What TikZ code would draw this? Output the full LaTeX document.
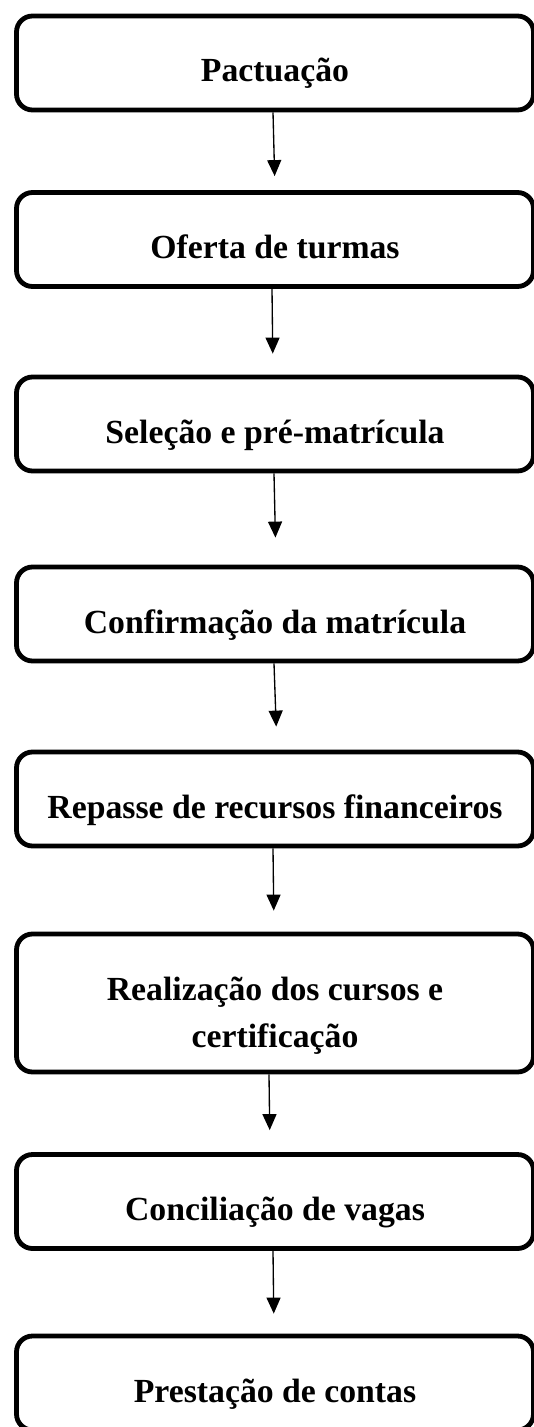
\documentclass[tikz,border=0pt]{standalone}
\usepackage{fontspec}
\setmainfont{Liberation Serif}
\usepackage{tikz}
\usetikzlibrary{arrows.meta}

\tikzset{
  stage/.style={draw, line width=3.6pt, rounded corners=12pt,
    minimum width=387.75pt, minimum height=70.5pt, inner sep=0pt,
    align=center, font=\fontsize{25.3}{35.25}\selectfont\bfseries,
    text height=28.5pt, text depth=0pt},
  flow/.style={line width=1pt, -{Triangle[length=12pt,width=10.5pt]}}
}

\begin{document}
\begin{tikzpicture}[x=0.75pt,y=-0.75pt]
    \useasboundingbox (0,0) rectangle (534,1427); % page size
    % the stages, top to bottom
    \node[stage] (pact)  at (275,63)    {Pactuação};
    \node[stage] (oferta) at (275,239.5) {Oferta de turmas};
    \node[stage] (selec) at (275,424)   {Seleção e pré-matrícula};
    \node[stage] (conf)  at (275,614)   {Confirmação da matrícula};
    \node[stage] (repas) at (275,799)   {Repasse de recursos financeiros};
    \node[stage, minimum height=103.5pt, text height=66pt]
                 (real)  at (275,1003)  {Realização dos cursos e\\certificação};
    \node[stage] (concil) at (275,1201.5) {Conciliação de vagas};
    \node[stage] (prest) at (275,1383)  {Prestação de contas};
    % arrows between the stages
    \foreach \from/\to/\sx/\ex/\gap in {pact/oferta/-1.5/0/10.5,
        oferta/selec/-2.25/-1.5/15.75, selec/conf/-0.75/0.75/20.25,
        conf/repas/-0.75/1.5/17.25, repas/real/-1.5/-0.75/15.75,
        real/concil/-4.5/-3.75/16.5, concil/prest/-1.5/-0.75/15}{
      \draw[flow, shorten >=\gap pt] ([xshift=\sx pt]\from.south)
          -- ([xshift=\ex pt]\to.north);
    }
\end{tikzpicture}
\end{document}
